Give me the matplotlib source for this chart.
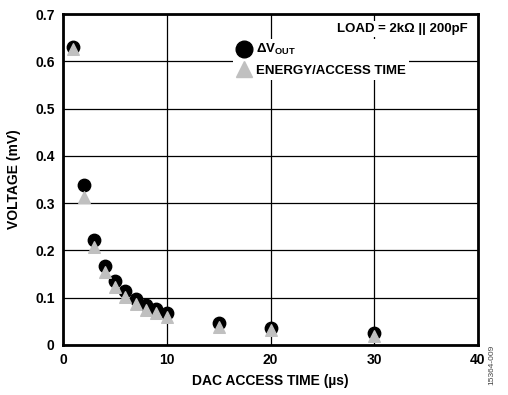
import matplotlib
matplotlib.use("Agg")
import matplotlib.pyplot as plt
from matplotlib.lines import Line2D

plt.rcParams['font.family'] = ['Liberation Sans', 'DejaVu Sans']
plt.rcParams['font.weight'] = 'bold'
plt.rcParams['mathtext.fontset'] = 'custom'
plt.rcParams['mathtext.rm'] = 'Liberation Sans:bold'
plt.rcParams['mathtext.bf'] = 'Liberation Sans:bold'

access_time = [1, 2, 3, 4, 5, 6, 7, 8, 9, 10, 15, 20, 30]
delta_vout = [0.631, 0.338, 0.223, 0.168, 0.135, 0.114, 0.097, 0.085, 0.076, 0.067, 0.046, 0.037, 0.025]
energy_per_time = [0.627, 0.314, 0.208, 0.155, 0.123, 0.102, 0.086, 0.075, 0.068, 0.060, 0.039, 0.032, 0.019]
x_ticks = [0, 10, 20, 30, 40]
y_ticks = [0, 0.1, 0.2, 0.3, 0.4, 0.5, 0.6, 0.7]
y_ticklabels = ['0', '0.1', '0.2', '0.3', '0.4', '0.5', '0.6', '0.7']

fig = plt.figure(figsize=(5.08, 3.95), dpi=100)
ax = fig.add_axes([63/508, 1 - 345/395, (478-63)/508, (345-14)/395])

ax.scatter(access_time, delta_vout, marker='o', s=80, color='black', zorder=3, clip_on=False)
ax.scatter(access_time, energy_per_time, marker='^', s=70, color='#c0c0c0', zorder=4, clip_on=False)

ax.set_xlim(0, 40)
ax.set_ylim(0, 0.7)
ax.set_xticks(x_ticks)
ax.set_yticks(y_ticks)
ax.set_yticklabels(y_ticklabels)
ax.tick_params(length=0, labelsize=10, pad=6)
for lbl in ax.get_xticklabels() + ax.get_yticklabels():
    lbl.set_fontweight('bold')
ax.grid(True, color='black', linewidth=0.9, zorder=1)
ax.set_axisbelow(True)
for sp in ax.spines.values():
    sp.set_linewidth(2)
    sp.set_zorder(5)

ax.set_xlabel('DAC ACCESS TIME (µs)', fontsize=10, fontweight='bold', labelpad=5)
ax.set_ylabel('VOLTAGE (mV)', fontsize=10, fontweight='bold', labelpad=10)

ax.text(0.975, 0.955, 'LOAD = 2kΩ || 200pF', transform=ax.transAxes, ha='right', va='center',
        fontsize=9.5, fontweight='bold', zorder=6,
        bbox=dict(facecolor='white', edgecolor='none', pad=1.5))

handles = [
    Line2D([], [], marker='o', linestyle='none', color='black', markersize=12),
    Line2D([], [], marker='^', linestyle='none', color='#c0c0c0', markersize=12),
]
leg = ax.legend(handles, ['ΔV$_{\\mathrm{OUT}}$', 'ENERGY/ACCESS TIME'],
                loc='upper left', bbox_to_anchor=(0.41, 0.925), frameon=True,
                framealpha=1, edgecolor='none', fancybox=False,
                prop={'weight': 'bold', 'size': 9.5}, handletextpad=0.3,
                borderpad=0.25, labelspacing=0.55, handlelength=1.2, borderaxespad=0)
leg.set_zorder(6)

fig.text(492/508, 1 - 365/395, '15364-009', rotation=90, ha='center', va='center',
         fontsize=6, color='#444444', fontweight='normal')

fig.savefig('out.png', dpi=100)
